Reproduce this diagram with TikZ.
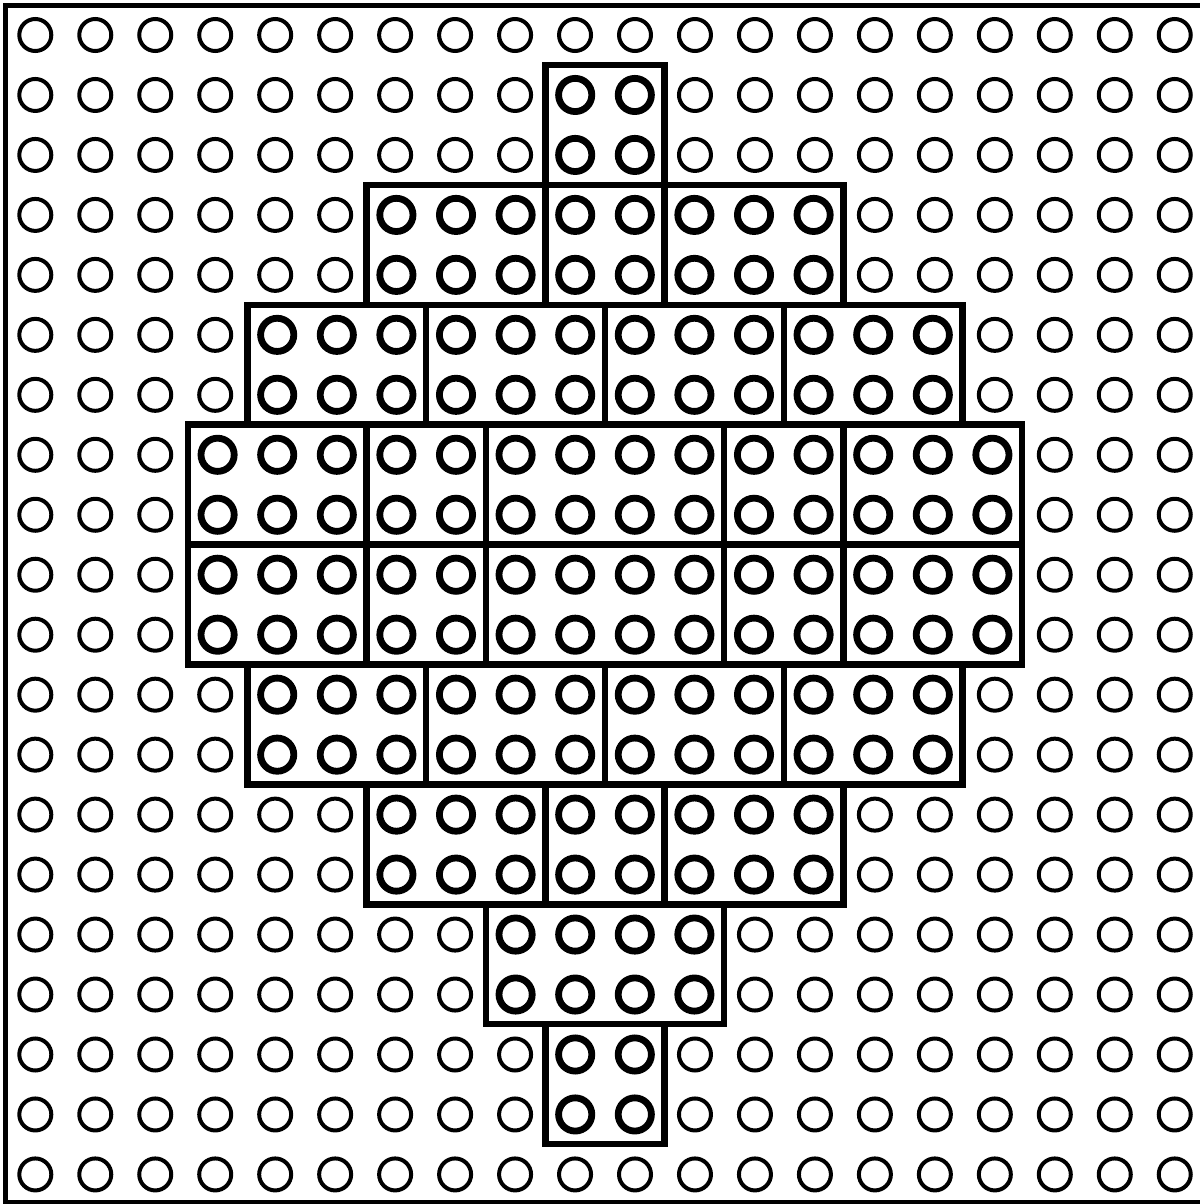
\documentclass[tikz,border=0pt]{standalone}
\begin{document}
\begin{tikzpicture}[x=1pt,y=-1pt,
  thinstud/.style={draw=black,line width=4pt},
  thickstud/.style={draw=black,line width=6.8pt},
  brick/.style={draw=black,line width=6.5pt,line join=miter},
  frameline/.style={draw=black,line width=4.8pt}]
\useasboundingbox (0,0) rectangle (1199,1204);
\draw[frameline] (5.5,5.5) rectangle (1206,1202);
% plain studs of the base plate
\foreach \j/\lo/\hi in {0/20/19,1/9/10,2/9/10,3/6/13,4/6/13,5/4/15,6/4/15,7/3/16,8/3/16,9/3/16,10/3/16,11/4/15,12/4/15,13/6/13,14/6/13,15/8/11,16/8/11,17/9/10,18/9/10,19/20/19}{
  \foreach \i in {0,...,19}{
    \ifnum\i<\lo \draw[thinstud] ({35.3+\i*59.97},{35+\j*59.97}) circle[radius=16pt];\fi
    \ifnum\i>\hi \draw[thinstud] ({35.3+\i*59.97},{35+\j*59.97}) circle[radius=16pt];\fi
  }
}
% bricks
\foreach \r/\a/\b in {1/9/11,
  3/6/9,3/9/11,3/11/14,
  5/4/7,5/7/10,5/10/13,5/13/16,
  7/3/6,7/6/8,7/8/12,7/12/14,7/14/17,
  9/3/6,9/6/8,9/8/12,9/12/14,9/14/17,
  11/4/7,11/7/10,11/10/13,11/13/16,
  13/6/9,13/9/11,13/11/14,
  15/8/12,
  17/9/11}{
  \pgfmathtruncatemacro\bb{\b-1}
  \foreach \i in {\a,...,\bb}{
    \foreach \dj in {0,1}{
      \draw[thickstud] ({605+(\i+0.5-10)*59.6},{35+(\r+\dj)*59.97}) circle[radius=16.6pt];
    }
  }
  \draw[brick] ({605+(\a-10)*59.6},{5+\r*59.95}) rectangle ({605+(\b-10)*59.6},{5+(\r+2)*59.95});
}
\end{tikzpicture}
\end{document}
